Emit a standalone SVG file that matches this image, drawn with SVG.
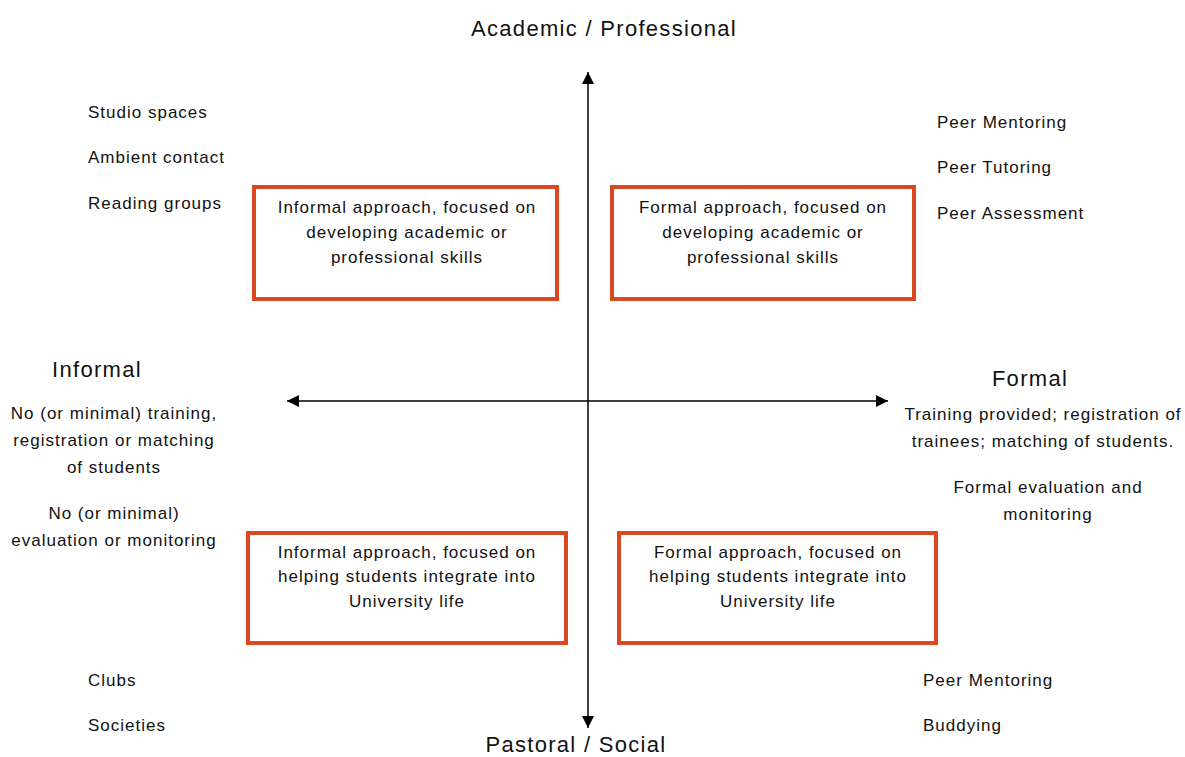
<svg xmlns="http://www.w3.org/2000/svg" width="1185" height="757" viewBox="0 0 1185 757">
<style>
.t{font-family:"Liberation Sans",Arial,sans-serif;font-size:17px;letter-spacing:1px;fill:#111}
.h{font-family:"Liberation Sans",Arial,sans-serif;font-size:22px;letter-spacing:1.3px;fill:#111}
.c{text-anchor:middle}
.box{fill:#fff;stroke:#d9481f;stroke-width:4}
.ax{stroke:#000;stroke-width:1.5;fill:none}
</style>
<defs>
<marker id="ah" viewBox="0 0 10 10" refX="10" refY="5" markerWidth="12" markerHeight="12" markerUnits="userSpaceOnUse" orient="auto">
<path d="M0,0 L10,5 L0,10 Z" fill="#000"/>
</marker>
</defs>
<rect width="1185" height="757" fill="#fff"/>
<g id="connectors">
<line class="ax" x1="588" y1="401" x2="588" y2="72" marker-end="url(#ah)"/>
<line class="ax" x1="588" y1="401" x2="588" y2="728" marker-end="url(#ah)"/>
<line class="ax" x1="588" y1="401" x2="287" y2="401" marker-end="url(#ah)"/>
<line class="ax" x1="588" y1="401" x2="888" y2="401" marker-end="url(#ah)"/>
</g>
<g id="title-top"><text class="h c" x="604" y="36">Academic / Professional</text></g>
<g id="title-bottom"><text class="h c" x="576" y="752">Pastoral / Social</text></g>
<g id="title-left"><text class="h c" x="97" y="377">Informal</text></g>
<g id="title-right"><text class="h c" x="1030" y="386">Formal</text></g>
<g id="box-tl">
<rect class="box" x="254" y="187" width="303" height="112"/>
<text class="t c" x="407" y="213">Informal approach, focused on</text>
<text class="t c" x="407" y="238">developing academic or</text>
<text class="t c" x="407" y="263">professional skills</text>
</g>
<g id="box-tr">
<rect class="box" x="612" y="187" width="302" height="112"/>
<text class="t c" x="763" y="213">Formal approach, focused on</text>
<text class="t c" x="763" y="238">developing academic or</text>
<text class="t c" x="763" y="263">professional skills</text>
</g>
<g id="box-bl">
<rect class="box" x="248" y="533" width="318" height="110"/>
<text class="t c" x="407" y="558">Informal approach, focused on</text>
<text class="t c" x="407" y="582">helping students integrate into</text>
<text class="t c" x="407" y="607">University life</text>
</g>
<g id="box-br">
<rect class="box" x="619" y="533" width="317" height="110"/>
<text class="t c" x="778" y="558">Formal approach, focused on</text>
<text class="t c" x="778" y="582">helping students integrate into</text>
<text class="t c" x="778" y="607">University life</text>
</g>
<g id="list-tl">
<text class="t" x="88" y="118">Studio spaces</text>
<text class="t" x="88" y="163">Ambient contact</text>
<text class="t" x="88" y="209">Reading groups</text>
</g>
<g id="list-tr">
<text class="t" x="937" y="128">Peer Mentoring</text>
<text class="t" x="937" y="173">Peer Tutoring</text>
<text class="t" x="937" y="219">Peer Assessment</text>
</g>
<g id="desc-left">
<text class="t c" x="114" y="419">No (or minimal) training,</text>
<text class="t c" x="114" y="446">registration or matching</text>
<text class="t c" x="114" y="473">of students</text>
<text class="t c" x="114" y="519">No (or minimal)</text>
<text class="t c" x="114" y="546">evaluation or monitoring</text>
</g>
<g id="desc-right">
<text class="t c" x="1043" y="420">Training provided; registration of</text>
<text class="t c" x="1043" y="447">trainees; matching of students.</text>
<text class="t c" x="1048" y="493">Formal evaluation and</text>
<text class="t c" x="1048" y="520">monitoring</text>
</g>
<g id="list-bl">
<text class="t" x="88" y="686">Clubs</text>
<text class="t" x="88" y="731">Societies</text>
</g>
<g id="list-br">
<text class="t" x="923" y="686">Peer Mentoring</text>
<text class="t" x="923" y="731">Buddying</text>
</g>
</svg>
